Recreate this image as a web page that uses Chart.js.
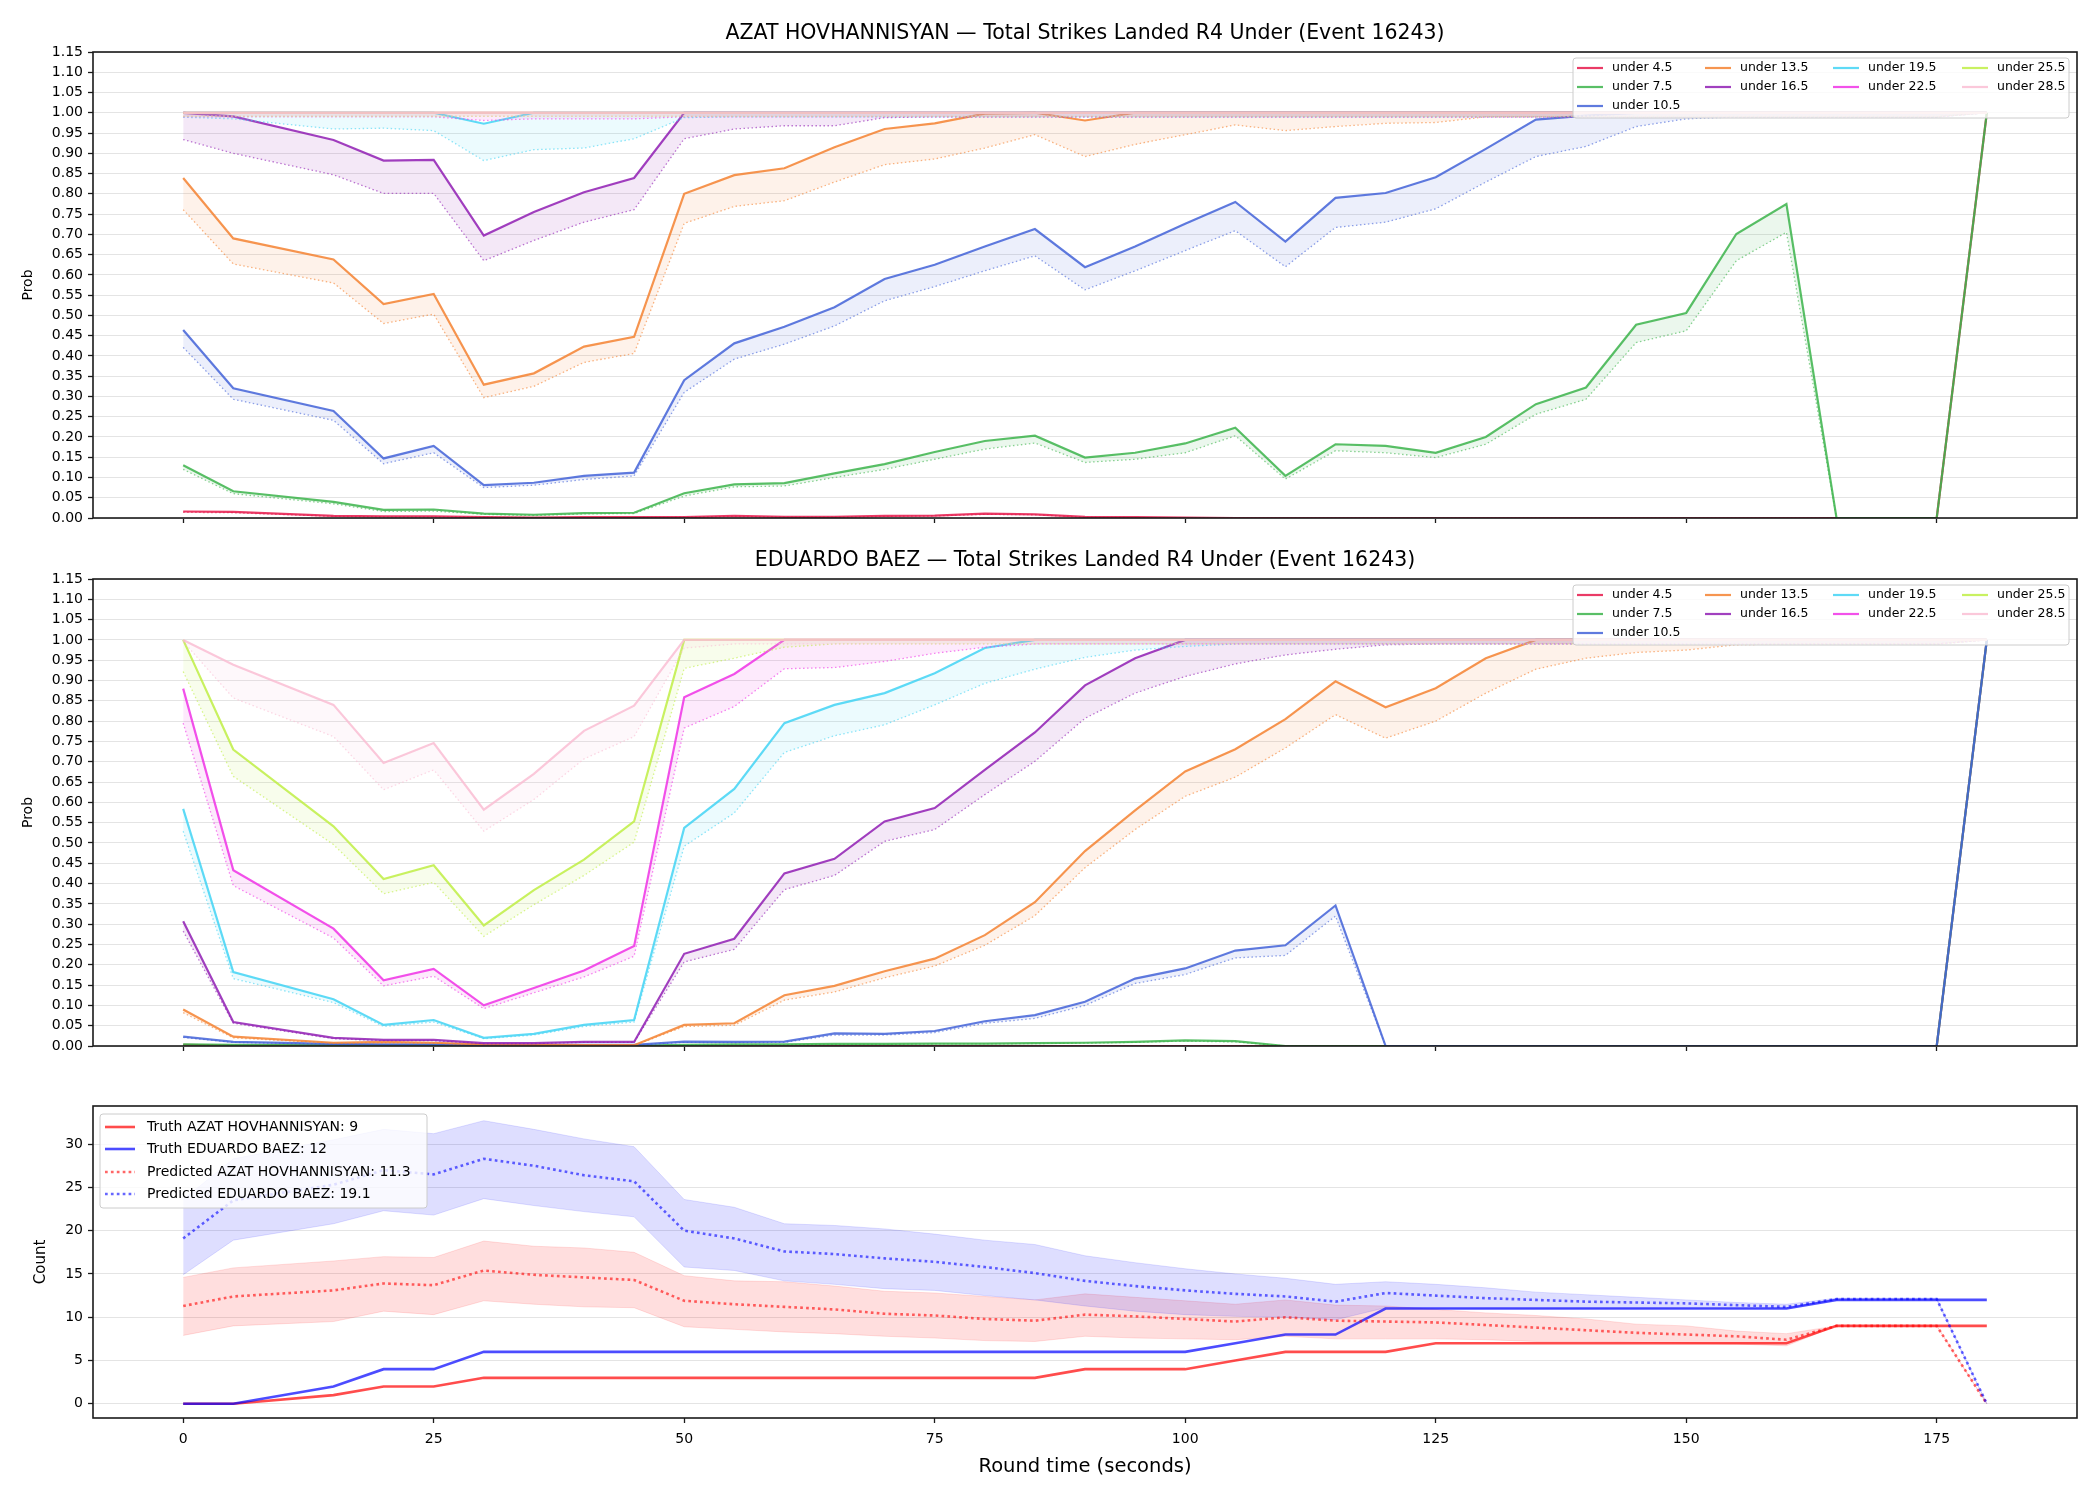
<!DOCTYPE html>
<html>
<head>
<meta charset="utf-8">
<script src="https://cdn.jsdelivr.net/npm/chart.js@4.4.1/dist/chart.umd.min.js"></script>
<style>
  body { margin: 0; background: #fff; }
  #wrap { position: relative; width: 2100px; height: 1500px; }
  canvas { position: absolute; left: 0; display: block; }
</style>
</head>
<body>
<div id="wrap">
  <canvas id="azat" width="2100" height="540" style="top:0"></canvas>
  <canvas id="eduardo" width="2100" height="540" style="top:540px"></canvas>
  <canvas id="count" width="2100" height="420" style="top:1080px"></canvas>
</div>
<script>
// ---- data ----
const roundTime = [0,5,15,20,25,30,35,40,45,50,55,60,65,70,75,80,85,90,95,100,105,110,115,120,125,130,135,140,145,150,155,160,165,170,175,180];
const timeTicks = [0,25,50,75,100,125,150,175];
const probTicks = [0,0.05,0.1,0.15,0.2,0.25,0.3,0.35,0.4,0.45,0.5,0.55,0.6,0.65,0.7,0.75,0.8,0.85,0.9,0.95,1,1.05,1.1,1.15];
const countTicks = [0,5,10,15,20,25,30];
const thresholds = ['4.5','7.5','10.5','13.5','16.5','19.5','22.5','25.5','28.5'];

// AZAT HOVHANNISYAN: solid line and dotted line per threshold
const azatU45    = [0.016,0.015,0.005,0.004,0.004,0.002,0.001,0.002,0.002,0.002,0.005,0.003,0.003,0.005,0.006,0.011,0.009,0.003,0.002,0.001,0,0,0,0,0,0,0,0,0,0,0,0,0,0,0,1];
const azatU45Dot = [0.014,0.013,0.004,0.003,0.003,0.002,0.001,0.001,0.001,0.002,0.004,0.002,0.002,0.004,0.005,0.009,0.008,0.002,0.001,0.001,0,0,0,0,0,0,0,0,0,0,0,0,0,0,0,1];
const azatU75    = [0.13,0.066,0.04,0.02,0.021,0.011,0.008,0.012,0.013,0.061,0.083,0.086,0.11,0.133,0.163,0.19,0.203,0.149,0.161,0.184,0.223,0.104,0.182,0.178,0.161,0.2,0.281,0.322,0.477,0.506,0.701,0.775,0,0,0,1];
const azatU75Dot = [0.12,0.06,0.035,0.016,0.017,0.009,0.006,0.01,0.011,0.054,0.077,0.079,0.1,0.12,0.145,0.17,0.185,0.137,0.145,0.161,0.203,0.096,0.166,0.161,0.149,0.182,0.256,0.293,0.433,0.462,0.635,0.705,0,0,0,1];
const azatU105    = [0.464,0.32,0.264,0.147,0.178,0.081,0.087,0.104,0.112,0.34,0.431,0.472,0.52,0.59,0.625,0.67,0.713,0.619,0.67,0.726,0.78,0.682,0.79,0.802,0.841,0.911,0.983,0.993,1,1,1,1,1,1,1,1];
const azatU105Dot = [0.421,0.293,0.241,0.134,0.161,0.075,0.081,0.095,0.104,0.31,0.392,0.429,0.474,0.536,0.571,0.61,0.647,0.563,0.61,0.66,0.709,0.62,0.717,0.73,0.763,0.829,0.892,0.917,0.966,0.985,0.99,0.99,0.99,0.99,0.99,1];
const azatU135    = [0.839,0.69,0.638,0.528,0.553,0.329,0.357,0.423,0.447,0.8,0.846,0.863,0.915,0.96,0.974,0.998,1,0.981,1,1,1,1,1,1,1,1,1,1,1,1,1,1,1,1,1,1];
const azatU135Dot = [0.761,0.627,0.58,0.48,0.503,0.297,0.325,0.384,0.406,0.727,0.769,0.783,0.829,0.872,0.886,0.913,0.946,0.892,0.922,0.946,0.97,0.956,0.966,0.974,0.976,0.99,0.99,0.99,0.99,0.99,0.99,0.99,0.99,0.99,0.99,1];
const azatU165    = [1,0.991,0.933,0.882,0.884,0.697,0.755,0.804,0.839,1,1,1,1,1,1,1,1,1,1,1,1,1,1,1,1,1,1,1,1,1,1,1,1,1,1,1];
const azatU165Dot = [0.934,0.9,0.847,0.801,0.801,0.635,0.685,0.73,0.761,0.936,0.96,0.968,0.968,0.988,0.99,0.99,0.99,0.99,0.99,0.99,0.99,0.99,0.99,0.99,0.99,0.99,0.99,0.99,0.99,0.99,0.99,0.99,0.99,0.99,0.99,1];
const azatU195    = [1,1,1,1,1,0.973,1,1,1,1,1,1,1,1,1,1,1,1,1,1,1,1,1,1,1,1,1,1,1,1,1,1,1,1,1,1];
const azatU195Dot = [0.989,0.985,0.96,0.962,0.956,0.882,0.909,0.913,0.936,0.988,0.99,0.99,0.99,0.99,0.99,0.99,0.99,0.99,0.99,0.99,0.99,0.99,0.99,0.99,0.99,0.99,0.99,0.99,0.99,0.99,0.99,0.99,0.99,0.99,0.99,1];
const azatU225    = [1,1,1,1,1,1,1,1,1,1,1,1,1,1,1,1,1,1,1,1,1,1,1,1,1,1,1,1,1,1,1,1,1,1,1,1];
const azatU225Dot = [0.99,0.99,0.99,0.99,0.99,0.981,0.985,0.985,0.985,0.99,0.99,0.99,0.99,0.99,0.99,0.99,0.99,0.99,0.99,0.99,0.99,0.99,0.99,0.99,0.99,0.99,0.99,0.99,0.99,0.99,0.99,0.99,0.99,0.99,0.99,1];
const azatU255    = [1,1,1,1,1,1,1,1,1,1,1,1,1,1,1,1,1,1,1,1,1,1,1,1,1,1,1,1,1,1,1,1,1,1,1,1];
const azatU255Dot = [0.991,0.991,0.991,0.991,0.991,0.991,0.991,0.991,0.991,0.991,0.991,0.991,0.991,0.991,0.991,0.991,0.991,0.991,0.991,0.991,0.991,0.991,0.991,0.991,0.991,0.991,0.991,0.991,0.991,0.991,0.991,0.991,0.991,0.991,0.991,1];
const azatU285    = [1,1,1,1,1,1,1,1,1,1,1,1,1,1,1,1,1,1,1,1,1,1,1,1,1,1,1,1,1,1,1,1,1,1,1,1];
const azatU285Dot = [0.992,0.992,0.992,0.992,0.992,0.992,0.992,0.992,0.992,0.992,0.992,0.992,0.992,0.992,0.992,0.992,0.992,0.992,0.992,0.992,0.992,0.992,0.992,0.992,0.992,0.992,0.992,0.992,0.992,0.992,0.992,0.992,0.992,0.992,0.992,1];

// EDUARDO BAEZ
const edU45    = [0.003,0.001,0.001,0.001,0.001,0,0,0,0,0,0,0,0,0,0,0,0,0,0,0,0,0,0,0,0,0,0,0,0,0,0,0,0,0,0,1];
const edU45Dot = [0.002,0.001,0.001,0.001,0.001,0,0,0,0,0,0,0,0,0,0,0,0,0,0,0,0,0,0,0,0,0,0,0,0,0,0,0,0,0,0,1];
const edU75    = [0.004,0.003,0.002,0.002,0.002,0.001,0.001,0.001,0.001,0.003,0.004,0.004,0.005,0.005,0.006,0.006,0.007,0.008,0.01,0.014,0.012,0,0,0,0,0,0,0,0,0,0,0,0,0,0,1];
const edU75Dot = [0.003,0.002,0.002,0.002,0.002,0.001,0.001,0.001,0.001,0.002,0.003,0.003,0.004,0.004,0.005,0.005,0.006,0.007,0.009,0.012,0.01,0,0,0,0,0,0,0,0,0,0,0,0,0,0,1];
const edU105    = [0.023,0.01,0.005,0.004,0.004,0.002,0.002,0.003,0.003,0.011,0.01,0.011,0.031,0.03,0.037,0.061,0.076,0.109,0.166,0.191,0.235,0.248,0.346,0,0,0,0,0,0,0,0,0,0,0,0,1];
const edU105Dot = [0.021,0.009,0.004,0.003,0.003,0.002,0.002,0.002,0.002,0.009,0.008,0.009,0.027,0.027,0.033,0.056,0.068,0.1,0.154,0.176,0.217,0.223,0.32,0,0,0,0,0,0,0,0,0,0,0,0,1];
const edU135    = [0.09,0.023,0.008,0.01,0.008,0.004,0.003,0.002,0.002,0.052,0.056,0.125,0.148,0.184,0.215,0.273,0.354,0.48,0.58,0.676,0.731,0.805,0.898,0.834,0.881,0.955,1,1,1,1,1,1,1,1,1,1];
const edU135Dot = [0.082,0.02,0.007,0.008,0.007,0.003,0.002,0.002,0.001,0.048,0.051,0.113,0.133,0.168,0.197,0.248,0.321,0.439,0.533,0.615,0.662,0.734,0.816,0.758,0.8,0.869,0.928,0.955,0.969,0.975,0.988,0.99,0.99,0.99,0.99,1];
const edU165    = [0.307,0.059,0.02,0.015,0.015,0.007,0.007,0.01,0.01,0.227,0.264,0.425,0.461,0.553,0.586,0.68,0.772,0.888,0.955,1,1,1,1,1,1,1,1,1,1,1,1,1,1,1,1,1];
const edU165Dot = [0.283,0.056,0.018,0.013,0.013,0.006,0.006,0.009,0.009,0.207,0.238,0.385,0.42,0.504,0.533,0.619,0.701,0.807,0.869,0.91,0.941,0.963,0.977,0.988,0.99,0.99,0.99,0.99,0.99,0.99,0.99,0.99,0.99,0.99,0.99,1];
const edU195    = [0.584,0.182,0.115,0.052,0.064,0.02,0.03,0.052,0.064,0.537,0.633,0.795,0.84,0.869,0.918,0.98,1,1,1,1,1,1,1,1,1,1,1,1,1,1,1,1,1,1,1,1];
const edU195Dot = [0.529,0.166,0.107,0.048,0.059,0.018,0.027,0.048,0.059,0.492,0.574,0.723,0.764,0.791,0.84,0.893,0.928,0.957,0.975,0.984,0.99,0.99,0.99,0.99,0.99,0.99,0.99,0.99,0.99,0.99,0.99,0.99,0.99,0.99,0.99,1];
const edU225    = [0.88,0.433,0.289,0.162,0.19,0.1,0.143,0.186,0.246,0.859,0.916,1,1,1,1,1,1,1,1,1,1,1,1,1,1,1,1,1,1,1,1,1,1,1,1,1];
const edU225Dot = [0.795,0.395,0.266,0.148,0.172,0.092,0.131,0.17,0.221,0.783,0.836,0.929,0.932,0.947,0.967,0.982,0.99,0.99,0.99,0.99,0.99,0.99,0.99,0.99,0.99,0.99,0.99,0.99,0.99,0.99,0.99,0.99,0.99,0.99,0.99,1];
const edU255    = [1,0.73,0.541,0.411,0.445,0.297,0.384,0.459,0.553,1,1,1,1,1,1,1,1,1,1,1,1,1,1,1,1,1,1,1,1,1,1,1,1,1,1,1];
const edU255Dot = [0.922,0.664,0.496,0.375,0.403,0.27,0.348,0.42,0.502,0.93,0.955,0.982,0.99,0.99,0.99,0.99,0.99,0.99,0.99,0.99,0.99,0.99,0.99,0.99,0.99,0.99,0.99,0.99,0.99,0.99,0.99,0.99,0.99,0.99,0.99,1];
const edU285    = [1,0.939,0.84,0.697,0.746,0.582,0.67,0.776,0.838,1,1,1,1,1,1,1,1,1,1,1,1,1,1,1,1,1,1,1,1,1,1,1,1,1,1,1];
const edU285Dot = [0.996,0.857,0.762,0.631,0.68,0.529,0.607,0.707,0.762,0.98,0.99,0.99,0.99,0.99,0.99,0.99,0.99,0.99,0.99,0.99,0.99,0.99,0.99,0.99,0.99,0.99,0.99,0.99,0.99,0.99,0.99,0.99,0.99,0.99,0.99,1];

// counts
const truthAzat   = [0,0,1,2,2,3,3,3,3,3,3,3,3,3,3,3,3,4,4,4,5,6,6,6,7,7,7,7,7,7,7,7,9,9,9,9];
const truthEduardo = [0,0,2,4,4,6,6,6,6,6,6,6,6,6,6,6,6,6,6,6,7,8,8,11,11,11,11,11,11,11,11,11,12,12,12,12];
const predAzat    = [11.3,12.4,13.1,13.9,13.7,15.4,14.9,14.6,14.3,11.9,11.5,11.2,10.9,10.4,10.2,9.8,9.6,10.3,10.1,9.8,9.5,10.0,9.6,9.5,9.4,9.1,8.8,8.5,8.2,8.0,7.8,7.4,9.0,9.0,9.0,0];
const predAzatHi  = [14.6,15.7,16.5,17.0,16.9,18.8,18.2,18.0,17.5,14.8,14.2,14.1,13.6,13.0,12.8,12.4,12.0,12.7,12.3,11.9,11.5,12.0,11.4,11.3,10.9,10.5,10.2,9.8,9.2,9.0,8.4,8.1,9.0,9.0,9.0,0];
const predAzatLo  = [7.9,9.0,9.5,10.7,10.3,11.9,11.5,11.2,11.1,8.9,8.6,8.3,8.1,7.8,7.6,7.3,7.2,7.8,7.6,7.5,7.4,7.8,7.5,7.5,7.5,7.4,7.2,7.2,7.1,7.0,6.9,6.7,9.0,9.0,9.0,0];
const predEduardo   = [19.1,23.5,25.3,27.0,26.5,28.3,27.5,26.4,25.7,20.0,19.1,17.6,17.3,16.8,16.4,15.8,15.1,14.2,13.6,13.1,12.7,12.4,11.8,12.8,12.5,12.2,12.0,11.8,11.7,11.6,11.4,11.2,12.1,12.1,12.1,0];
const predEduardoHi = [23.6,28.3,30.5,31.7,31.2,32.7,31.7,30.6,29.7,23.6,22.7,20.8,20.6,20.2,19.6,18.9,18.4,17.1,16.3,15.6,15.0,14.5,13.8,14.1,13.8,13.4,12.9,12.6,12.3,12.0,11.7,11.5,12.2,12.2,12.2,0];
const predEduardoLo = [14.9,18.9,20.8,22.3,21.8,23.7,22.9,22.2,21.6,15.8,15.4,14.2,13.8,13.3,13.1,12.5,12.0,11.3,10.7,10.3,10.1,10.0,9.7,11.1,11.0,11.0,11.0,11.0,11.0,11.0,11.0,11.0,12.0,12.0,12.0,0];

const azatSolid = [azatU45, azatU75, azatU105, azatU135, azatU165, azatU195, azatU225, azatU255, azatU285];
const azatDotted = [azatU45Dot, azatU75Dot, azatU105Dot, azatU135Dot, azatU165Dot, azatU195Dot, azatU225Dot, azatU255Dot, azatU285Dot];
const edSolid = [edU45, edU75, edU105, edU135, edU165, edU195, edU225, edU255, edU285];
const edDotted = [edU45Dot, edU75Dot, edU105Dot, edU135Dot, edU165Dot, edU195Dot, edU225Dot, edU255Dot, edU285Dot];

// ---- styling ----
const FONT = "'DejaVu Sans', sans-serif";
const palette = ['#e6194b', '#3cb44b', '#4363d8', '#f58231', '#911eb4', '#42d4f4', '#f032e6', '#bfef45', '#fabed4'];
const PLOT_LEFT = 93;
const PLOT_RIGHT_PAD = 23;

[...azatSolid, ...azatDotted, ...edSolid, ...edDotted, truthAzat, truthEduardo, predAzat, predAzatHi, predAzatLo,
 predEduardo, predEduardoHi, predEduardoLo].forEach((arr, i) => {
    if (arr.length !== roundTime.length) throw new Error('series ' + i + ' has ' + arr.length + ' values');
});

function rgba(hex, a) {
    const n = parseInt(hex.slice(1), 16);
    return 'rgba(' + (n >> 16) + ',' + ((n >> 8) & 255) + ',' + (n & 255) + ',' + a + ')';
}

function pts(arr) {
    return roundTime.map((t, k) => ({x: t, y: arr[k]}));
}

function fixedTicks(values) {
    return scale => { scale.ticks = values.map(v => ({value: v})); };
}

// title above the plot and the frame round it
function decor(title, titleGap) {
    return {
        id: 'decor',
        afterDraw(chart) {
            const ctx = chart.ctx, a = chart.chartArea;
            ctx.save();
            ctx.strokeStyle = '#1a1a1a';
            ctx.lineWidth = 1.6;
            ctx.strokeRect(a.left, a.top, a.right - a.left, a.bottom - a.top);
            if (title) {
                ctx.fillStyle = '#000';
                ctx.font = '20.5px ' + FONT;
                ctx.textAlign = 'center';
                ctx.textBaseline = 'middle';
                ctx.fillText(title, (a.left + a.right) / 2, a.top - titleGap);
            }
            ctx.restore();
        }
    };
}

// legend box drawn inside the plot, like the matplotlib one
function boxLegend(cfg) {
    return {
        id: 'boxLegend',
        afterDraw(chart) {
            const ctx = chart.ctx, a = chart.chartArea;
            const x0 = cfg.side === 'right' ? a.right - cfg.dx - cfg.w : a.left + cfg.dx;
            const y0 = a.top + cfg.dy;
            ctx.save();
            ctx.beginPath();
            ctx.roundRect(x0, y0, cfg.w, cfg.h, 3);
            ctx.fillStyle = 'rgba(255,255,255,0.8)';
            ctx.fill();
            ctx.strokeStyle = '#cccccc';
            ctx.lineWidth = 1;
            ctx.stroke();
            ctx.font = cfg.fontSize + 'px ' + FONT;
            ctx.textBaseline = 'middle';
            cfg.items.forEach(it => {
                const cx = x0 + cfg.colX[it.col], cy = y0 + cfg.rowY[it.row];
                ctx.beginPath();
                ctx.setLineDash(it.dash || []);
                ctx.strokeStyle = it.color;
                ctx.lineWidth = it.width;
                ctx.moveTo(cx, cy);
                ctx.lineTo(cx + cfg.handle, cy);
                ctx.stroke();
                ctx.setLineDash([]);
                ctx.fillStyle = '#000';
                ctx.fillText(it.text, cx + cfg.textGap, cy);
            });
            ctx.restore();
        }
    };
}

function xScale(height, showLabels, extra) {
    return Object.assign({
        type: 'linear',
        min: -9,
        max: 189,
        afterBuildTicks: fixedTicks(timeTicks),
        afterFit: s => { s.height = height; },
        grid: {drawOnChartArea: false, drawTicks: true, tickLength: 5, tickColor: '#1a1a1a', tickWidth: 1.3},
        border: {display: false},
        ticks: {
            color: '#000',
            font: {family: FONT, size: 14},
            padding: 8,
            maxRotation: 0,
            callback: v => showLabels ? String(v) : ''
        }
    }, extra || {});
}

function yScale(min, max, ticks, fmt, title, titleSize, titlePad) {
    return {
        min: min,
        max: max,
        afterBuildTicks: fixedTicks(ticks),
        afterFit: s => { s.width = PLOT_LEFT; },
        grid: {color: '#e4e4e4', lineWidth: 1, drawTicks: true, tickLength: 5, tickColor: '#1a1a1a', tickWidth: 1.3},
        border: {display: false},
        ticks: {color: '#000', font: {family: FONT, size: 14}, padding: 5, callback: fmt},
        title: {display: true, text: title, color: '#000', font: {family: FONT, size: titleSize}, padding: {top: titlePad, bottom: 0}}
    };
}

function probLegendItems() {
    const colOf = [0, 0, 0, 1, 1, 2, 2, 3, 3];
    const rowOf = [0, 1, 2, 0, 1, 0, 1, 0, 1];
    return thresholds.map((th, i) => ({
        text: 'under ' + th, color: rgba(palette[i], 0.85), width: 2.2, col: colOf[i], row: rowOf[i]
    }));
}

function probChart(id, title, solid, dotted, topPad, xHeight) {
    const datasets = [];
    thresholds.forEach((th, i) => {
        datasets.push({
            label: 'under ' + th,
            data: pts(solid[i]),
            borderColor: rgba(palette[i], 0.85),
            borderWidth: 2.2,
            pointRadius: 0,
            fill: false,
            order: 100 - 2 * i
        });
        datasets.push({
            label: 'under ' + th + ' (dotted)',
            data: pts(dotted[i]),
            borderColor: rgba(palette[i], 0.6),
            borderWidth: 1.3,
            borderDash: [1.5, 2.5],
            pointRadius: 0,
            fill: '-1',
            backgroundColor: rgba(palette[i], 0.1),
            order: 99 - 2 * i
        });
    });
    new Chart(document.getElementById(id), {
        type: 'line',
        data: {datasets: datasets},
        options: {
            responsive: false,
            animation: false,
            layout: {padding: {top: topPad, right: PLOT_RIGHT_PAD, left: 0, bottom: 0}},
            plugins: {legend: {display: false}, tooltip: {enabled: false}},
            scales: {
                x: xScale(xHeight, false),
                y: yScale(0, 1.15, probTicks, v => v.toFixed(2), 'Prob', 14, 20)
            }
        },
        plugins: [decor(title, 18), boxLegend({
            side: 'right', dx: 8, dy: 6, w: 496, h: 60, fontSize: 12.5,
            colX: [4, 132, 260, 389], rowY: [10, 29, 48], handle: 26, textGap: 35,
            items: probLegendItems()
        })]
    });
}

probChart('azat', 'AZAT HOVHANNISYAN \u2014 Total Strikes Landed R4 Under (Event 16243)', azatSolid, azatDotted, 52, 22);
probChart('eduardo', 'EDUARDO BAEZ \u2014 Total Strikes Landed R4 Under (Event 16243)', edSolid, edDotted, 39, 34);

// ---- count chart ----
const RED = 'rgba(255,0,0,0.7)', BLUE = 'rgba(0,0,255,0.7)';
const RED_DOT = 'rgba(255,0,0,0.6)', BLUE_DOT = 'rgba(0,0,255,0.6)';
const DOTS = [2.7, 3.2];

new Chart(document.getElementById('count'), {
    type: 'line',
    data: {
        datasets: [
            {label: 'band hi A', data: pts(predAzatHi), borderColor: 'rgba(255,0,0,0.12)', borderWidth: 1, pointRadius: 0, fill: false, order: 20},
            {label: 'band lo A', data: pts(predAzatLo), borderColor: 'rgba(255,0,0,0.12)', borderWidth: 1, pointRadius: 0, fill: '-1', backgroundColor: 'rgba(255,0,0,0.13)', order: 19},
            {label: 'band hi E', data: pts(predEduardoHi), borderColor: 'rgba(0,0,255,0.12)', borderWidth: 1, pointRadius: 0, fill: false, order: 18},
            {label: 'band lo E', data: pts(predEduardoLo), borderColor: 'rgba(0,0,255,0.12)', borderWidth: 1, pointRadius: 0, fill: '-1', backgroundColor: 'rgba(0,0,255,0.13)', order: 17},
            {label: 'Truth AZAT HOVHANNISYAN: 9', data: pts(truthAzat), borderColor: RED, borderWidth: 2.6, pointRadius: 0, fill: false, order: 10},
            {label: 'Truth EDUARDO BAEZ: 12', data: pts(truthEduardo), borderColor: BLUE, borderWidth: 2.6, pointRadius: 0, fill: false, order: 9},
            {label: 'Predicted AZAT HOVHANNISYAN: 11.3', data: pts(predAzat), borderColor: RED_DOT, borderWidth: 2.6, borderDash: DOTS, pointRadius: 0, fill: false, order: 8},
            {label: 'Predicted EDUARDO BAEZ: 19.1', data: pts(predEduardo), borderColor: BLUE_DOT, borderWidth: 2.6, borderDash: DOTS, pointRadius: 0, fill: false, order: 7}
        ]
    },
    options: {
        responsive: false,
        animation: false,
        layout: {padding: {top: 26, right: PLOT_RIGHT_PAD, left: 0, bottom: 0}},
        plugins: {legend: {display: false}, tooltip: {enabled: false}},
        scales: {
            x: xScale(82, true, {
                title: {display: true, text: 'Round time (seconds)', color: '#000', font: {family: FONT, size: 19.5}, padding: {top: 0, bottom: 21}}
            }),
            y: yScale(-1.64, 34.4, countTicks, v => String(v), 'Count', 15, 32)
        }
    },
    plugins: [decor(null, 0), boxLegend({
        side: 'left', dx: 7, dy: 8, w: 327, h: 94, fontSize: 14,
        colX: [5], rowY: [13, 35, 58, 80], handle: 30, textGap: 42,
        items: [
            {text: 'Truth AZAT HOVHANNISYAN: 9', color: RED, width: 2.6, col: 0, row: 0},
            {text: 'Truth EDUARDO BAEZ: 12', color: BLUE, width: 2.6, col: 0, row: 1},
            {text: 'Predicted AZAT HOVHANNISYAN: 11.3', color: RED_DOT, width: 2.6, dash: DOTS, col: 0, row: 2},
            {text: 'Predicted EDUARDO BAEZ: 19.1', color: BLUE_DOT, width: 2.6, dash: DOTS, col: 0, row: 3}
        ]
    })]
});
</script>
</body>
</html>
